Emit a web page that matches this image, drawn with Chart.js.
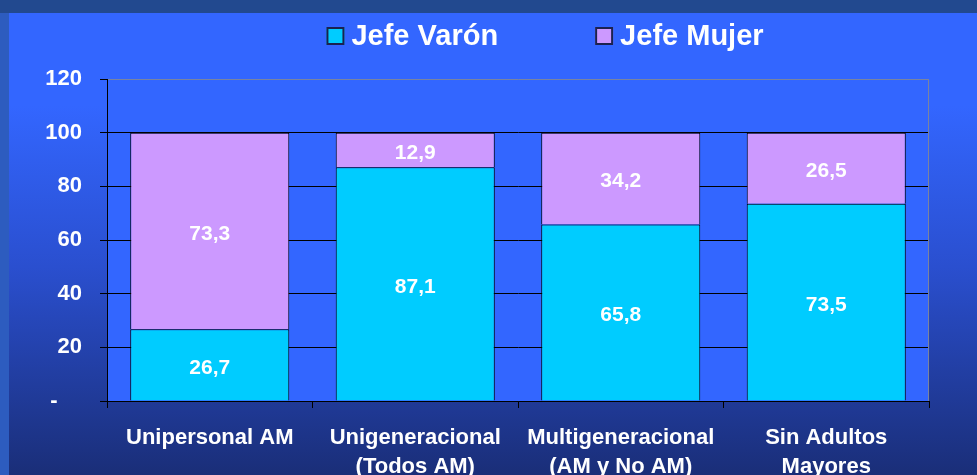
<!doctype html>
<html lang="es">
<head>
<meta charset="utf-8">
<title>Jefe Varón / Jefe Mujer</title>
<script src="https://cdn.jsdelivr.net/npm/chart.js@4.4.4/dist/chart.umd.min.js"></script>
<style>
  html, body { margin: 0; padding: 0; background: #22498f; overflow: hidden; }
  canvas { display: block; }
</style>
</head>
<body>
<canvas id="chart" width="977" height="475"></canvas>
<script>
// Household type, share (%) by sex of head of household.
const categories = [
  ["Unipersonal AM"],
  ["Unigeneracional", "(Todos AM)"],
  ["Multigeneracional", "(AM y No AM)"],
  ["Sin Adultos", "Mayores"],
];
const jefeVaron = [26.7, 87.1, 65.8, 73.5];
const jefeMujer = [73.3, 12.9, 34.2, 26.5];
const seriesNames = ["Jefe Varón", "Jefe Mujer"];
const yMax = 120;
const yStep = 20;

const FONT = "'Liberation Sans', Arial, sans-serif";
const CYAN = "#00ccff";
const LILAC = "#cc99ff";
const PLOT_BG = "#3366ff";

const fmt = (v) => v.toFixed(1).replace(".", ",");

// Slide-style backdrop: navy strip on top, blue panel fading to dark navy.
const backdrop = {
  id: "backdrop",
  beforeDraw(chart) {
    const { ctx, width, height, chartArea: a } = chart;
    ctx.save();
    ctx.fillStyle = "#22498f";
    ctx.fillRect(0, 0, width, height);
    ctx.fillStyle = "#2d5cbf";
    ctx.fillRect(0, 13, 9, height - 13);
    const g = ctx.createLinearGradient(0, 13, 0, height);
    g.addColorStop(0, "#3366ff");
    g.addColorStop(0.2, "#3366ff");
    g.addColorStop(0.55, "#2a4fcf");
    g.addColorStop(1, "#1a2e78");
    ctx.fillStyle = g;
    ctx.fillRect(9, 13, width - 9, height - 13);
    ctx.fillStyle = PLOT_BG;
    ctx.fillRect(a.left, a.top, a.right - a.left, a.bottom - a.top);
    ctx.restore();
  },
  beforeDatasetsDraw(chart) {
    const { ctx, chartArea: a } = chart;
    ctx.save();
    ctx.strokeStyle = "#7a84a0";
    ctx.lineWidth = 1;
    ctx.beginPath();
    ctx.moveTo(a.right - 0.5, a.top);
    ctx.lineTo(a.right - 0.5, a.bottom);
    ctx.stroke();
    ctx.restore();
  },
};

// Values written in the middle of each stacked segment.
const segmentLabels = {
  id: "segmentLabels",
  afterDatasetsDraw(chart) {
    const { ctx } = chart;
    ctx.save();
    ctx.fillStyle = "#ffffff";
    ctx.font = "bold 21px " + FONT;
    ctx.textAlign = "center";
    ctx.textBaseline = "middle";
    chart.data.datasets.forEach((ds, i) => {
      chart.getDatasetMeta(i).data.forEach((bar, j) => {
        ctx.fillText(fmt(ds.data[j]), bar.x, (bar.y + bar.base) / 2 + 3);
      });
    });
    ctx.restore();
  },
};

// Legend drawn above the plot, centred a little right of the middle.
const topLegend = {
  id: "topLegend",
  afterDraw(chart) {
    const { ctx } = chart;
    const box = 18, gap = 7, itemGap = 97, centre = 545, midY = 36;
    ctx.save();
    ctx.font = "bold 29px " + FONT;
    ctx.textBaseline = "middle";
    const items = chart.data.datasets.map((ds) => ({
      text: ds.label, color: ds.backgroundColor, w: ctx.measureText(ds.label).width,
    }));
    const total = items.reduce((s, it) => s + box + gap + it.w, 0) + itemGap * (items.length - 1);
    let x = centre - total / 2;
    for (const it of items) {
      ctx.fillStyle = it.color;
      ctx.fillRect(x, midY - box / 2, box, box);
      ctx.strokeStyle = "#1b2250";
      ctx.lineWidth = 2;
      ctx.strokeRect(x + 1, midY - box / 2 + 1, box - 2, box - 2);
      ctx.fillStyle = "#ffffff";
      ctx.fillText(it.text, x + box + gap, midY + 1);
      x += box + gap + it.w + itemGap;
    }
    ctx.restore();
  },
};

new Chart(document.getElementById("chart"), {
  type: "bar",
  data: {
    labels: categories,
    datasets: [
      {
        label: seriesNames[0], data: jefeVaron,
        backgroundColor: CYAN, borderColor: "#000000", borderWidth: 1,
      },
      {
        label: seriesNames[1], data: jefeMujer,
        backgroundColor: LILAC, borderColor: "#000000", borderWidth: 1,
      },
    ],
  },
  options: {
    responsive: false,
    animation: false,
    devicePixelRatio: 1,
    layout: { padding: { top: 79, right: 48, bottom: 0, left: 0 } },
    datasets: { bar: { barPercentage: 0.774, categoryPercentage: 1 } },
    scales: {
      x: {
        stacked: true,
        grid: {
          offset: true, drawOnChartArea: false, tickLength: 7,
          color: "#000000", tickColor: "#000000",
        },
        border: { color: "#000000", width: 1 },
        ticks: {
          color: "#ffffff", padding: 16, maxRotation: 0, autoSkip: false,
          font: { family: FONT, size: 22, weight: "bold", lineHeight: 1.3 },
        },
        afterFit(scale) { scale.height = 74; },
      },
      y: {
        stacked: true, min: 0, max: yMax,
        grid: {
          tickLength: 7, tickColor: "#000000",
          color: (c) => (c.tick && c.tick.value === yMax ? "#7a84a0" : "#000000"),
        },
        border: { color: "#000000", width: 1 },
        ticks: {
          stepSize: yStep, color: "#ffffff", padding: 18,
          font: { family: FONT, size: 22, weight: "bold" },
          callback: (v) => (v === 0 ? "-    " : String(v)),
        },
        afterFit(scale) { scale.width = 107; },
      },
    },
    plugins: {
      legend: { display: false },
      tooltip: { enabled: false },
    },
  },
  plugins: [backdrop, segmentLabels, topLegend],
});
</script>
</body>
</html>
